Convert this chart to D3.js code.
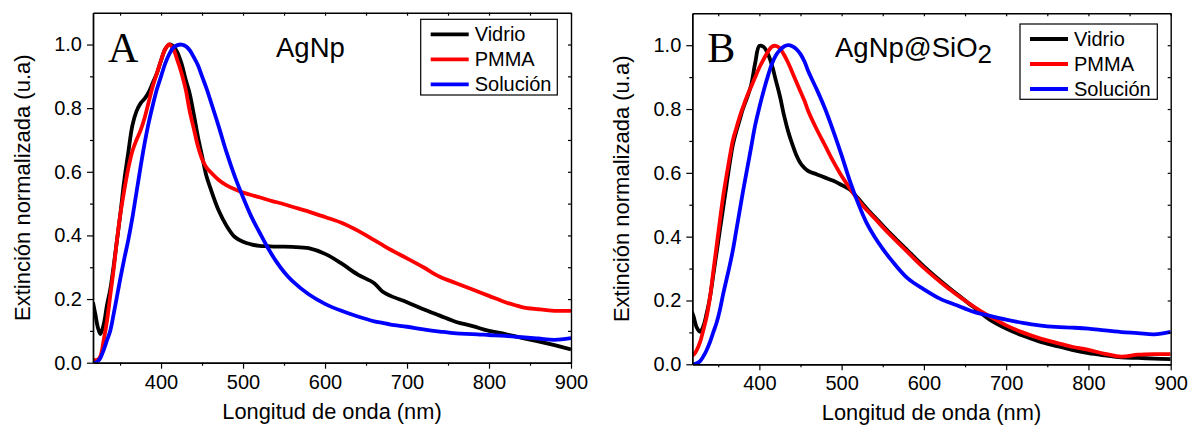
<!DOCTYPE html>
<html>
<head>
<meta charset="utf-8">
<script src="https://cdn.jsdelivr.net/npm/d3@7"></script>
<style>
  body { margin: 0; background: #fff; }
  svg { display: block; font-family: "Liberation Sans", Arial, sans-serif; }
</style>
</head>
<body>
<svg id="chart" width="1190" height="431"></svg>
<script>
// wavelengths (nm) for panel A and panel B
const waveA = [317, 320, 323, 326, 330, 334, 338, 342, 346, 350, 355, 360, 365, 370, 375, 380, 385, 390, 395, 400,
  405, 410, 415, 420, 425, 430, 435, 440, 445, 450, 455, 460, 470, 480, 490, 500, 510, 520, 530, 540,
  550, 560, 580, 600, 620, 640, 660, 670, 680, 700, 720, 740, 760, 780, 800, 820, 840, 860, 880, 900];

const vidrioA = [0.19, 0.15, 0.11, 0.09, 0.12, 0.18, 0.23, 0.30, 0.38, 0.46, 0.57, 0.66, 0.745, 0.79, 0.815, 0.83, 0.85, 0.88, 0.91, 0.95,
  0.985, 1.0, 0.995, 0.975, 0.94, 0.89, 0.845, 0.78, 0.71, 0.65, 0.59, 0.55, 0.48, 0.43, 0.395, 0.38, 0.372, 0.367, 0.366, 0.365,
  0.365, 0.364, 0.36, 0.342, 0.312, 0.277, 0.25, 0.224, 0.21, 0.19, 0.168, 0.148, 0.128, 0.115, 0.10, 0.09, 0.078, 0.067, 0.055, 0.042];

const pmmaA = [0.01, 0.008, 0.01, 0.02, 0.07, 0.13, 0.21, 0.29, 0.38, 0.46, 0.54, 0.61, 0.665, 0.70, 0.73, 0.77, 0.82, 0.87, 0.91, 0.95,
  0.985, 1.0, 0.985, 0.95, 0.91, 0.86, 0.79, 0.735, 0.68, 0.64, 0.615, 0.60, 0.575, 0.557, 0.545, 0.535, 0.527, 0.52, 0.512, 0.505,
  0.498, 0.49, 0.475, 0.458, 0.44, 0.415, 0.385, 0.37, 0.355, 0.328, 0.30, 0.27, 0.25, 0.23, 0.21, 0.19, 0.175, 0.168, 0.163, 0.163];

const solucionA = [0.0, 0.0, 0.005, 0.015, 0.04, 0.07, 0.10, 0.15, 0.205, 0.26, 0.325, 0.385, 0.455, 0.535, 0.615, 0.69, 0.755, 0.81, 0.86, 0.90,
  0.94, 0.97, 0.99, 0.998, 1.0, 0.995, 0.982, 0.96, 0.935, 0.90, 0.865, 0.826, 0.745, 0.66, 0.585, 0.52, 0.46, 0.41, 0.362, 0.32,
  0.285, 0.257, 0.215, 0.185, 0.163, 0.145, 0.13, 0.125, 0.12, 0.113, 0.105, 0.098, 0.092, 0.09, 0.087, 0.084, 0.08, 0.076, 0.072, 0.077];

const waveB = [318, 320, 324, 328, 332, 336, 340, 344, 348, 352, 356, 360, 364, 368, 372, 376, 380, 385, 390, 395,
  400, 405, 410, 415, 420, 425, 430, 435, 440, 445, 450, 455, 460, 470, 480, 490, 500, 510, 520, 530,
  540, 550, 560, 580, 600, 620, 640, 660, 680, 700, 720, 740, 760, 780, 800, 820, 840, 860, 880, 900];

const vidrioB = [0.165, 0.15, 0.115, 0.102, 0.12, 0.16, 0.21, 0.28, 0.35, 0.42, 0.49, 0.56, 0.63, 0.69, 0.73, 0.765, 0.80, 0.835, 0.875, 0.945,
  0.998, 0.995, 0.975, 0.94, 0.89, 0.84, 0.78, 0.73, 0.69, 0.655, 0.63, 0.615, 0.605, 0.595, 0.585, 0.575, 0.562, 0.548, 0.52, 0.49,
  0.462, 0.435, 0.408, 0.357, 0.307, 0.262, 0.22, 0.18, 0.14, 0.112, 0.09, 0.072, 0.058, 0.045, 0.035, 0.028, 0.022, 0.02, 0.018, 0.016];

const pmmaB = [0.03, 0.03, 0.045, 0.07, 0.108, 0.15, 0.21, 0.29, 0.37, 0.45, 0.526, 0.59, 0.65, 0.704, 0.74, 0.775, 0.805, 0.84, 0.87, 0.90,
  0.93, 0.955, 0.978, 0.995, 0.998, 0.99, 0.97, 0.945, 0.915, 0.885, 0.855, 0.825, 0.79, 0.735, 0.685, 0.635, 0.59, 0.552, 0.515, 0.485,
  0.458, 0.43, 0.403, 0.352, 0.302, 0.258, 0.218, 0.182, 0.15, 0.122, 0.1, 0.082, 0.068, 0.055, 0.045, 0.033, 0.024, 0.03, 0.032, 0.032];

const solucionB = [0.0, 0.0, 0.003, 0.01, 0.025, 0.045, 0.07, 0.10, 0.13, 0.17, 0.22, 0.265, 0.31, 0.36, 0.42, 0.48, 0.54, 0.61, 0.68, 0.75,
  0.805, 0.855, 0.90, 0.94, 0.968, 0.985, 0.996, 1.0, 0.997, 0.988, 0.972, 0.948, 0.915, 0.86, 0.80, 0.73, 0.655, 0.575, 0.505, 0.445,
  0.40, 0.362, 0.328, 0.27, 0.235, 0.205, 0.185, 0.165, 0.152, 0.14, 0.13, 0.122, 0.117, 0.115, 0.112, 0.106, 0.101, 0.098, 0.094, 0.102];

const seriesNames = ["Vidrio", "PMMA", "Solución"];
const seriesColors = ["#000000", "#ff0000", "#0000ff"];
const xTicks = [400, 500, 600, 700, 800, 900];
const xMinor = [350, 450, 550, 650, 750, 850];
const yTicks = [0, 0.2, 0.4, 0.6, 0.8, 1.0];
const yMinor = [0.1, 0.3, 0.5, 0.7, 0.9];

const svg = d3.select("#chart");

const panels = [
  { letter: "A", title: "AgNp", sub: null, wave: waveA, series: [vidrioA, pmmaA, solucionA],
    xDom: [317, 900], left: 93, right: 571, top: 12.7, bottom: 362.7,
    titleX: 276, legend: { x: 420.7, y: 19.3, w: 136.6, h: 75.7 } },
  { letter: "B", title: "AgNp@SiO", sub: "2", wave: waveB, series: [vidrioB, pmmaB, solucionB],
    xDom: [318.5, 900], left: 692.3, right: 1170.7, top: 13.3, bottom: 364.3,
    titleX: 835, legend: { x: 1020, y: 24, w: 137.3, h: 75.3 } }
];

panels.forEach(drawPanel);

function drawPanel(p) {
  const x = d3.scaleLinear().domain(p.xDom).range([p.left, p.right]);
  const y = d3.scaleLinear().domain([0, 1.1]).range([p.bottom, p.top]);
  const g = svg.append("g");

  // curves (clipped to plot area)
  const clipId = "clip" + p.letter;
  g.append("clipPath").attr("id", clipId).append("rect")
    .attr("x", p.left).attr("y", p.top).attr("width", p.right - p.left).attr("height", p.bottom - p.top);

  const line = d3.line()
    .x(d => x(d[0]))
    .y(d => y(d[1]))
    .curve(d3.curveCatmullRom.alpha(0.5));

  p.series.forEach((vals, i) => {
    g.append("path")
      .datum(p.wave.map((w, j) => [w, vals[j]]))
      .attr("clip-path", `url(#${clipId})`)
      .attr("d", line)
      .attr("fill", "none")
      .attr("stroke", seriesColors[i])
      .attr("stroke-width", 3.8)
      .attr("stroke-linejoin", "round");
  });

  // axes
  const axisStyle = sel => {
    sel.select(".domain").attr("stroke", "#000").attr("stroke-width", 1.4);
    sel.selectAll(".tick line").attr("stroke", "#000").attr("stroke-width", 1.2);
    sel.selectAll("text").attr("font-family", "Liberation Sans, Arial, sans-serif").attr("font-size", 20).attr("fill", "#000");
  };

  g.append("g").attr("transform", `translate(0,${p.bottom})`)
    .call(d3.axisBottom(x).tickValues(xTicks).tickSize(6).tickPadding(6).tickSizeOuter(0).tickFormat(d3.format("d")))
    .call(axisStyle);
  g.append("g").attr("transform", `translate(0,${p.bottom})`)
    .call(d3.axisBottom(x).tickValues(xMinor).tickSize(3).tickFormat("").tickSizeOuter(0))
    .call(axisStyle);

  g.append("g").attr("transform", `translate(${p.left},0)`)
    .call(d3.axisLeft(y).tickValues(yTicks).tickSize(6).tickPadding(5).tickSizeOuter(0).tickFormat(d3.format(".1f")))
    .call(axisStyle);
  g.append("g").attr("transform", `translate(${p.left},0)`)
    .call(d3.axisLeft(y).tickValues(yMinor).tickSize(3).tickFormat("").tickSizeOuter(0))
    .call(axisStyle);

  // mirror axes, ticks inward
  g.append("g").attr("transform", `translate(0,${p.top})`)
    .call(d3.axisTop(x).tickValues(xTicks.concat(xMinor)).tickSize(-3).tickFormat("").tickSizeOuter(0))
    .call(axisStyle);
  g.append("g").attr("transform", `translate(${p.right},0)`)
    .call(d3.axisRight(y).tickValues(yTicks.concat(yMinor)).tickSize(-3).tickFormat("").tickSizeOuter(0))
    .call(axisStyle);

  // axis titles
  g.append("text")
    .attr("x", (p.left + p.right) / 2).attr("y", p.bottom + 56)
    .attr("text-anchor", "middle").attr("font-size", 21.8)
    .text("Longitud de onda (nm)");
  g.append("text")
    .attr("transform", `translate(${p.left - 63},${(p.top + p.bottom) / 2}) rotate(-90)`)
    .attr("text-anchor", "middle").attr("font-size", 22)
    .text("Extinción normalizada (u.a)");

  // panel letter and sample title
  g.append("text")
    .attr("x", p.left + 15).attr("y", 62)
    .attr("font-family", "Liberation Serif, Times New Roman, serif").attr("font-size", 42)
    .text(p.letter);
  const t = g.append("text")
    .attr("x", p.titleX).attr("y", 57).attr("font-size", 27.5)
    .text(p.title);
  if (p.sub) t.append("tspan").attr("dy", 6).attr("font-size", 26).text(p.sub);

  // legend
  const L = p.legend;
  g.append("rect").attr("x", L.x).attr("y", L.y).attr("width", L.w).attr("height", L.h)
    .attr("fill", "#fff").attr("stroke", "#000").attr("stroke-width", 1.2);
  seriesNames.forEach((name, i) => {
    const cy = L.y + 15 + i * 25;
    g.append("line").attr("x1", L.x + 10).attr("x2", L.x + 48).attr("y1", cy).attr("y2", cy)
      .attr("stroke", seriesColors[i]).attr("stroke-width", 3.8);
    g.append("text").attr("x", L.x + 54).attr("y", cy + 7).attr("font-size", 20).text(name);
  });
}
</script>
</body>
</html>
